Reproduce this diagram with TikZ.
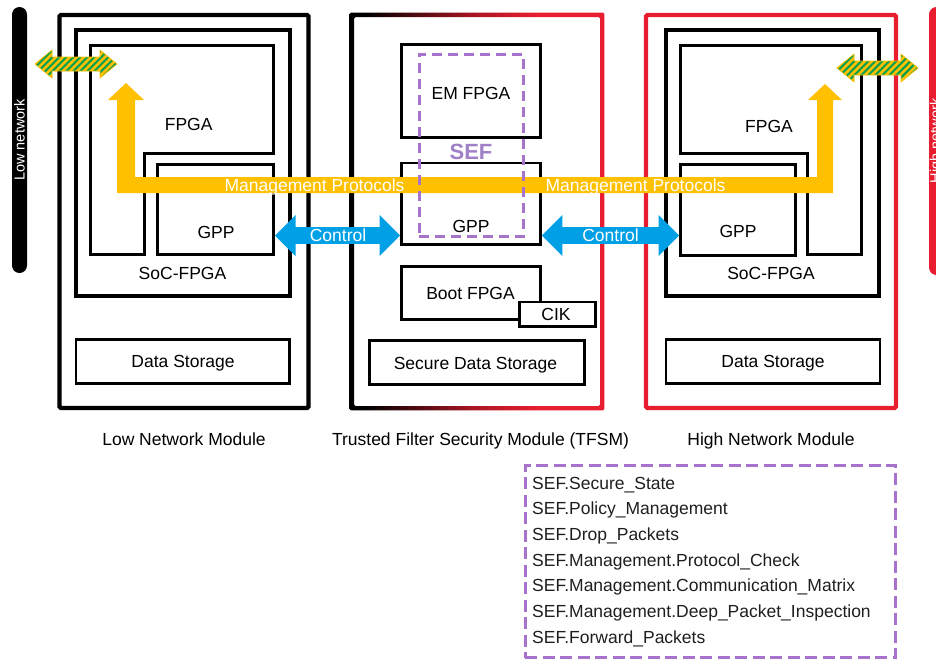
\documentclass[tikz,border=0pt]{standalone}
\usepackage{fontspec}
\setmainfont{Liberation Sans}
\usetikzlibrary{calc}

\definecolor{netred}{RGB}{232,30,48}
\definecolor{mgmt}{RGB}{255,192,0}
\definecolor{ctrl}{RGB}{0,160,230}
\definecolor{sefpurple}{RGB}{166,114,204}
\definecolor{seftext}{RGB}{160,128,198}
\definecolor{netgreen}{RGB}{0,158,80}
\definecolor{listtext}{RGB}{30,30,30}
\colorlet{framemid}{netred!75!black}

% frame of the trusted module: black on the left fading into red
\pgfdeclarehorizontalshading{tfsmframe}{100bp}{color(0bp)=(black); color(25bp)=(black); color(28bp)=(black); color(50bp)=(framemid); color(62bp)=(netred); color(100bp)=(netred)}

% box given by the centres of its border lines: name, x1, y1, x2, y2, style
\newcommand\mkbox[6]{\node[#6, minimum width={#4-#2}, minimum height={#5-#3}] (#1) at ({(#2+#4)/2},{(#3+#5)/2}) {};}

% horizontal double block arrow: style, from, to, head length, head half width, shaft half width
\newcommand\dblarrowpath[6]{%
  \path[#1] let \p1=(#2), \p2=(#3) in
    (\x1,\y1) -- (\x1+#4pt,\y1+#5pt) -- (\x1+#4pt,\y1+#6pt) -- (\x2-#4pt,\y1+#6pt)
    -- (\x2-#4pt,\y1+#5pt) -- (\x2,\y1) -- (\x2-#4pt,\y1-#5pt) -- (\x2-#4pt,\y1-#6pt)
    -- (\x1+#4pt,\y1-#6pt) -- (\x1+#4pt,\y1-#5pt) -- cycle;}

% striped green/yellow network link
\newcommand\netarrow[2]{%
  \begin{scope}
    \dblarrowpath{clip}{#1}{#2}{17}{14}{7}
    \fill[netgreen] ($(#1)+(0,-16)$) rectangle ($(#2)+(0,16)$);
    \foreach \k in {-3,...,15} {\draw[mgmt, line width=2.5pt] ($(#1)+(\k*7-16,16)$) -- ++(32,-32);}
  \end{scope}
  \dblarrowpath{draw=mgmt, line width=0.6pt}{#1}{#2}{17}{14}{7}}

\begin{document}
\begin{tikzpicture}[x=1pt, y=-1pt, font=\fontsize{17.5}{21}\selectfont,
  blk/.style={draw=black, line width=#1, inner sep=0},
  lbl/.style={inner sep=0, text height=12.5pt, text depth=0pt},
  wlbl/.style={lbl, text=white},
  sefline/.style={draw=sefpurple, line width=3pt, dash pattern=on 10pt off 6pt, inner sep=0},
  bartext/.style={rotate=90, text=white, inner sep=0, font=\fontsize{14.5}{16}\selectfont}]
\useasboundingbox (0,0) rectangle (936,659);

% network bars at both sides
\node[fill=black, rounded corners=7.5pt, minimum width=15, minimum height=266, inner sep=0] (lownet) at (19.5,140) {};
\node[bartext] (lownett) at (lownet) {Low network};
\node[fill=netred, rounded corners=7.5pt, minimum width=15, minimum height=268, inner sep=0] (highnet) at (936.5,141) {};
\node[bartext] (highnett) at (highnet) {High network};

% ---------- low network module ----------
\mkbox{lmod}{59.5}{15}{308.5}{408}{blk=4.3pt, rounded corners=1.5pt}
\mkbox{lsoc}{76}{30}{289.5}{296}{blk=4pt}
\draw[line width=3pt] (90,45.5) -- (273.5,45.5) -- (273.5,153) -- (144.5,153) -- (144.5,254.5) -- (90,254.5) -- cycle;
\mkbox{lgpp}{157.5}{164}{273.5}{254.5}{blk=3pt}
\mkbox{lstore}{76}{339.5}{289.5}{383.5}{blk=2.8pt}
\node[lbl] (lfpgat) at (188.7,124.5) {FPGA};
\node[lbl] (lgppt) at (216,232) {GPP};
\node[lbl] (lsoct) at (182.5,273.3) {SoC-FPGA};
\node[lbl] (lstoret) at (183,361) {Data Storage};

% ---------- trusted filter security module ----------
\node[inner sep=0, minimum width=250, minimum height=393] (tfsm) at (477,211.5) {};
\shade[shading=tfsmframe, even odd rule, rounded corners=1.5pt]
  ([shift={(-2.2,-2.2)}]tfsm.north west) rectangle ([shift={(2.2,2.2)}]tfsm.south east)
  ([shift={(2.2,2.2)}]tfsm.north west) rectangle ([shift={(-2.2,-2.2)}]tfsm.south east);
\mkbox{tem}{401.5}{44.5}{540.5}{137.5}{blk=2.8pt}
\mkbox{tgpp}{401.5}{163}{540.5}{244.5}{blk=2.8pt}
\mkbox{tboot}{401.5}{266.5}{540.5}{319.5}{blk=2.8pt}
\mkbox{tcik}{519.5}{302}{595.5}{326.5}{blk=2.8pt, fill=white}
\mkbox{tsds}{369.5}{340.3}{584.5}{384.5}{blk=2.8pt}
\node[lbl] (temt) at (471,93) {EM FPGA};
\node[lbl] (tgppt) at (471,226) {GPP};
\node[lbl] (tboott) at (470.5,293) {Boot FPGA};
\node[lbl] (tcikt) at (556,314) {CIK};
\node[lbl] (tsdst) at (475.5,363) {Secure Data Storage};

% ---------- high network module ----------
\mkbox{hmod}{646}{15}{896}{408}{draw=netred, line width=4.3pt, inner sep=0, rounded corners=1.5pt}
\mkbox{hsoc}{666}{30}{879}{296}{blk=4pt}
\draw[line width=3pt] (680.5,45.5) -- (861.5,45.5) -- (861.5,254.5) -- (807.5,254.5) -- (807.5,153) -- (680.5,153) -- cycle;
\mkbox{hgpp}{680.5}{164.5}{795.5}{255.5}{blk=3pt}
\mkbox{hstore}{666}{339.5}{880}{383.5}{blk=2.8pt}
\node[lbl] (hfpgat) at (769,126) {FPGA};
\node[lbl] (hgppt) at (738,231) {GPP};
\node[lbl] (hsoct) at (771,273.3) {SoC-FPGA};
\node[lbl] (hstoret) at (773,361) {Data Storage};

% ---------- management protocols path ----------
\fill[mgmt] (117,193) -- (117,100) -- (108,100) -- (126,83) -- (144,100) -- (135,100) -- (135,177)
  -- (817,177) -- (817,100) -- (808,100) -- (825,84) -- (842,100) -- (833,100) -- (833,193) -- cycle;
\node[wlbl] (mgmtl) at (314.5,185) {Management Protocols};
\node[wlbl] (mgmtr) at (635.5,185) {Management Protocols};

% security enforcing functions region
\mkbox{sefbox}{419}{54}{523.3}{236.5}{sefline}
\node[inner sep=0, text height=16pt, text depth=0pt, text=seftext, font=\fontsize{22}{26}\selectfont\bfseries] (seft) at (471,151) {SEF};

% ---------- control links ----------
\coordinate (ctrlrow) at (0,235.5);
\dblarrowpath{fill=ctrl}{lgpp.east |- ctrlrow}{tgpp.west |- ctrlrow}{20.5}{20.5}{8.3}
\dblarrowpath{fill=ctrl}{tgpp.east |- ctrlrow}{hgpp.west |- ctrlrow}{20.5}{20.5}{8.3}
\node[wlbl] (ctrll) at (338,235.5) {Control};
\node[wlbl] (ctrlr) at (610.5,235.5) {Control};

% ---------- network links ----------
\coordinate (lnA) at (35,64);
\coordinate (lnB) at (117,64);
\coordinate (hnA) at (837,68);
\coordinate (hnB) at (918,68);
\netarrow{lnA}{lnB}
\netarrow{hnA}{hnB}

% ---------- module captions ----------
\node[lbl] (lcap) at (184,439) {Low Network Module};
\node[lbl] (tcap) at (480.5,439) {Trusted Filter Security Module (TFSM)};
\node[lbl] (hcap) at (771,439) {High Network Module};

% ---------- list of security enforcing functions ----------
\mkbox{seflist}{525.3}{465}{895.5}{657.5}{draw=sefpurple, line width=3pt, dash pattern=on 12pt off 5.5pt, inner sep=0}
\foreach \t [count=\i from 0] in {SEF.Secure\_State, SEF.Policy\_Management, SEF.Drop\_Packets,
    SEF.Management.Protocol\_Check, SEF.Management.Communication\_Matrix,
    SEF.Management.Deep\_Packet\_Inspection, SEF.Forward\_Packets}
  \node[anchor=base west, inner sep=0, text=listtext] (item\i) at (532,489+\i*25.67) {\t};
\end{tikzpicture}
\end{document}
